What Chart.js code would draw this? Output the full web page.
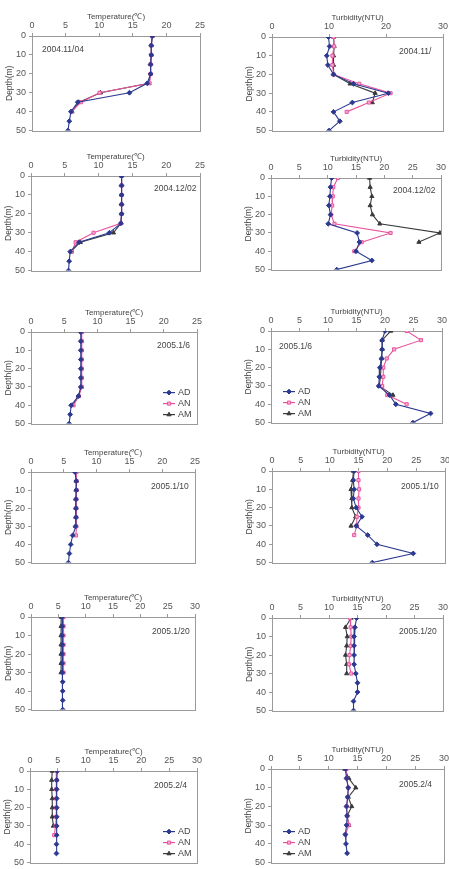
<!DOCTYPE html>
<html>
<head>
<meta charset="utf-8">
<script src="https://cdn.jsdelivr.net/npm/chart.js@4.4.0/dist/chart.umd.min.js"></script>
<style>
  html, body { margin: 0; padding: 0; background: #fff; overflow: hidden; }
  #page { position: relative; width: 449px; height: 869px; }
  .panel { position: absolute; }
</style>
</head>
<body>
<div id="page"></div>
<script>
// depths (m) shared by every profile
const depths = [0, 5, 10, 15, 20, 25, 30, 35, 40, 45, 50];
const seriesNames = ['AD', 'AN', 'AM'];
const dates = ['2004.11/04', '2004.11/', '2004.12/02', '2004.12/02', '2005.1/6', '2005.1/6',
               '2005.1/10', '2005.1/10', '2005.1/20', '2005.1/20', '2005.2/4', '2005.2/4'];
const depthTicks = [0, 10, 20, 30, 40, 50];

// 2004.11/04
const nov04TempAD = [17.9, 17.75, 17.75, 17.65, 17.65, 17.15, 14.5, 6.8, 5.8, 5.55, 5.35];
const nov04TempAN = [17.9, 17.75, 17.75, 17.65, 17.65, 17.5, 10.05, 7.3, 5.9];
const nov04TempAM = [17.9, 17.75, 17.75, 17.65, 17.65, 17.4, 10.2, 7.0, 5.95];
const nov04TurbAD = [9.9, 10.1, 9.6, 9.8, 10.8, 14.3, 20.4, 14.1, 10.8, 11.9, 10.0];
const nov04TurbAN = [10.8, 10.9, 10.6, 10.6, 10.8, 15.3, 20.8, 17.0, 13.1];
const nov04TurbAM = [10.8, 10.9, 10.8, 10.8, 10.8, 13.7, 18.1, 17.6];

// 2004.12/02
const dec02TempAD = [13.4, 13.4, 13.4, 13.4, 13.4, 13.3, 11.6, 7.1, 5.8, 5.65, 5.55];
const dec02TempAN = [13.4, 13.4, 13.4, 13.4, 13.4, 13.3, 9.25, 6.6, 6.05];
const dec02TempAM = [13.4, 13.4, 13.4, 13.4, 13.4, 13.3, 12.2, 7.3, 5.9];
const dec02TurbAD = [10.7, 10.5, 10.4, 10.2, 10.5, 10.1, 15.2, 15.6, 15.0, 17.8, 11.6];
const dec02TurbAN = [11.8, 11.0, 10.9, 10.8, 10.6, 11.2, 21.1, 16.0, 14.7];
const dec02TurbAM = [17.4, 17.5, 17.8, 17.5, 17.9, 19.2, 29.8, 26.1];

// 2005.1/6
const jan06TempAD = [7.5, 7.5, 7.5, 7.5, 7.5, 7.5, 7.5, 7.15, 6.05, 5.9, 5.75];
const jan06TempAN = [7.65, 7.65, 7.65, 7.65, 7.65, 7.65, 7.65, 7.2, 6.4];
const jan06TempAM = [7.6, 7.6, 7.6, 7.6, 7.6, 7.6, 7.6, 7.15, 6.3];
const jan06TurbAD = [20.0, 19.5, 19.5, 19.4, 19.1, 19.0, 18.9, 20.8, 21.9, 28.0, 24.9];
const jan06TurbAN = [23.8, 26.3, 21.6, 20.3, 19.7, 19.7, 19.5, 20.4, 23.8];
const jan06TurbAM = [21.0, 19.5, 19.5, 19.4, 19.3, 19.2, 19.0, 21.4];

// 2005.1/10
const jan10TempAD = [6.7, 6.9, 6.9, 6.85, 6.85, 6.85, 6.8, 6.35, 6.05, 5.85, 5.7];
const jan10TempAN = [6.9, 6.95, 6.95, 6.9, 6.9, 6.9, 6.9, 6.85];
const jan10TempAM = [6.85, 6.9, 6.9, 6.85, 6.85, 6.85, 6.8];
const jan10TurbAD = [14.25, 14.1, 14.25, 14.1, 14.6, 15.6, 14.6, 16.6, 18.2, 24.5, 17.4];
const jan10TurbAN = [15.0, 15.0, 15.1, 15.0, 15.0, 14.7, 14.7, 14.25];
const jan10TurbAM = [14.1, 14.0, 13.7, 13.85, 13.85, 14.5, 13.7];

// 2005.1/20
const jan20TempAD = [5.7, 5.75, 5.7, 5.75, 5.7, 5.7, 5.75, 5.8, 5.8, 5.8, 5.8];
const jan20TempAN = [5.95, 5.95, 5.95, 5.95, 5.95, 5.95, 5.95];
const jan20TempAM = [5.5, 5.5, 5.5, 5.5, 5.5, 5.5, 5.5];
const jan20TurbAD = [14.85, 14.55, 14.4, 14.4, 14.4, 14.4, 14.7, 15.0, 15.0, 14.3, 14.3];
const jan20TurbAN = [13.7, 13.8, 13.9, 13.8, 13.6, 13.5, 13.9];
const jan20TurbAM = [13.85, 12.9, 13.2, 13.1, 12.9, 13.1, 13.1];

// 2005.2/4
const feb04TempAD = [4.9, 4.8, 4.8, 4.8, 4.8, 4.8, 4.8, 4.8, 4.75, 4.75];
const feb04TempAN = [4.8, 4.8, 4.7, 4.7, 4.7, 4.7, 4.6, 4.35];
const feb04TempAM = [4.0, 3.9, 3.9, 4.0, 4.0, 4.0, 4.2];
const feb04TurbAD = [12.9, 13.1, 13.4, 13.3, 13.1, 13.2, 13.1, 12.9, 13.0, 13.2];
const feb04TurbAN = [13.1, 13.1, 13.4, 13.3, 13.1, 13.2, 13.5, 12.9];
const feb04TurbAM = [12.8, 13.5, 14.7, 13.4, 14.0, 13.2, 13.5];

const tempTitle = 'Temperature(\u2103)';
const turbTitle = 'Turbidity(NTU)';

// layout of each panel: plot box in page px, axis range, label offsets
const panels = [
  { l: 32, t: 36, r: 200, b: 133, title: tempTitle, max: 25, step: 5, series: [nov04TempAD, nov04TempAN, nov04TempAM], dateAt: [10, 14] },
  { l: 272, t: 37, r: 443, b: 133, title: turbTitle, max: 30, step: 10, series: [nov04TurbAD, nov04TurbAN, nov04TurbAM], dateAt: [127, 15] },
  { l: 31, t: 176, r: 200, b: 273, title: tempTitle, max: 25, step: 5, series: [dec02TempAD, dec02TempAN, dec02TempAM], dateAt: [123, 13] },
  { l: 271, t: 178, r: 441, b: 272, title: turbTitle, max: 30, step: 5, series: [dec02TurbAD, dec02TurbAN, dec02TurbAM], dateAt: [122, 13] },
  { l: 31, t: 332, r: 197, b: 426, title: tempTitle, max: 25, step: 5, series: [jan06TempAD, jan06TempAN, jan06TempAM], dateAt: [126, 14], legend: 'right' },
  { l: 271, t: 331, r: 442, b: 425, title: turbTitle, max: 30, step: 5, series: [jan06TurbAD, jan06TurbAN, jan06TurbAM], dateAt: [8, 16], legend: 'left' },
  { l: 31, t: 472, r: 195, b: 565, title: tempTitle, max: 25, step: 5, series: [jan10TempAD, jan10TempAN, jan10TempAM], dateAt: [120, 15] },
  { l: 272, t: 471, r: 445, b: 565, title: turbTitle, max: 30, step: 5, series: [jan10TurbAD, jan10TurbAN, jan10TurbAM], dateAt: [129, 16] },
  { l: 31, t: 617, r: 195, b: 712, title: tempTitle, max: 30, step: 5, series: [jan20TempAD, jan20TempAN, jan20TempAM], dateAt: [121, 15] },
  { l: 272, t: 618, r: 443, b: 713, title: turbTitle, max: 30, step: 5, series: [jan20TurbAD, jan20TurbAN, jan20TurbAM], dateAt: [127, 14] },
  { l: 30, t: 771, r: 197, b: 865, title: tempTitle, max: 30, step: 5, series: [feb04TempAD, feb04TempAN, feb04TempAM], dateAt: [124, 15], legend: 'right' },
  { l: 271, t: 769, r: 444, b: 865, title: turbTitle, max: 30, step: 5, series: [feb04TurbAD, feb04TurbAN, feb04TurbAM], dateAt: [128, 16], legend: 'left' }
];

const styles = [
  { color: '#2b3990', fill: '#2b3990', point: 'rectRot', radius: 2.4 },
  { color: '#e8559e', fill: '#f5b0d2', point: 'rect', radius: 2.2 },
  { color: '#3a3a3a', fill: '#3a3a3a', point: 'triangle', radius: 2.4 }
];

const YW = 30, XH = 30, PR = 8, PB = 6;
const FONT = '"Liberation Sans", Arial, sans-serif';
Chart.defaults.font.family = FONT;
Chart.defaults.font.size = 9;
Chart.defaults.color = '#555';

const frame = {
  id: 'frame',
  beforeDatasetsDraw(chart) {
    const { ctx, chartArea: a } = chart;
    ctx.save();
    ctx.strokeStyle = '#9a9a9a';
    ctx.lineWidth = 1;
    ctx.strokeRect(Math.round(a.left) + 0.5, Math.round(a.top) + 0.5,
                   Math.round(a.right - a.left), Math.round(a.bottom - a.top));
    ctx.restore();
  }
};

const notes = {
  id: 'notes',
  afterDraw(chart, args, opts) {
    const { ctx, chartArea: a } = chart;
    ctx.save();
    ctx.font = '8.5px ' + FONT;
    ctx.fillStyle = '#444';
    ctx.textBaseline = 'middle';
    ctx.textAlign = 'left';
    ctx.fillText(opts.date, a.left + opts.dateAt[0], a.top + opts.dateAt[1]);
    if (opts.legend) {
      ctx.font = '9px ' + FONT;
      const x0 = opts.legend === 'right' ? a.right - 34 : a.left + 12;
      chart.data.datasets.forEach((ds, i) => {
        const y = a.bottom - 31 + i * 11;
        ctx.strokeStyle = ds.borderColor;
        ctx.lineWidth = 1.2;
        ctx.beginPath();
        ctx.moveTo(x0, y);
        ctx.lineTo(x0 + 12, y);
        ctx.stroke();
        ctx.fillStyle = ds.pointBackgroundColor;
        ctx.strokeStyle = ds.pointBorderColor;
        ctx.lineWidth = 1;
        Chart.helpers.drawPoint(ctx, { pointStyle: ds.pointStyle, radius: ds.pointRadius, borderWidth: 1, rotation: 0 }, x0 + 6, y);
        ctx.fillStyle = '#444';
        ctx.fillText(ds.label, x0 + 15, y);
      });
    }
    ctx.restore();
  }
};

const page = document.getElementById('page');

panels.forEach((p, n) => {
  const w = p.r - p.l + YW + PR;
  const h = p.b - p.t + XH + PB;
  const box = document.createElement('div');
  box.className = 'panel';
  box.style.left = (p.l - YW) + 'px';
  box.style.top = (p.t - XH) + 'px';
  const cv = document.createElement('canvas');
  cv.width = w;
  cv.height = h;
  cv.style.width = w + 'px';
  cv.style.height = h + 'px';
  box.appendChild(cv);
  page.appendChild(box);

  const datasets = p.series.map((vals, i) => ({
    label: seriesNames[i],
    data: vals.map((v, k) => ({ x: v, y: depths[k] })),
    borderColor: styles[i].color,
    borderWidth: 1.1,
    pointStyle: styles[i].point,
    pointRadius: styles[i].radius,
    pointBackgroundColor: styles[i].fill,
    pointBorderColor: styles[i].color,
    pointBorderWidth: 1,
    fill: false,
    tension: 0
  }));

  new Chart(cv, {
    type: 'line',
    data: { datasets },
    plugins: [frame, notes],
    options: {
      responsive: false,
      animation: false,
      layout: { padding: { left: 0, top: 0, right: PR, bottom: PB } },
      plugins: {
        legend: { display: false },
        tooltip: { enabled: false },
        notes: { date: dates[n], dateAt: p.dateAt, legend: p.legend }
      },
      scales: {
        x: {
          type: 'linear',
          position: 'top',
          min: 0,
          max: p.max,
          ticks: { stepSize: p.step, padding: 2, color: '#555' },
          grid: { drawOnChartArea: false, tickLength: 3, color: '#9a9a9a' },
          border: { color: '#9a9a9a' },
          title: { display: true, text: p.title, color: '#444', font: { size: 8 }, padding: { top: 6, bottom: 0 } },
          afterFit: s => { s.height = XH; }
        },
        y: {
          type: 'linear',
          reverse: true,
          min: 0,
          max: 50,
          afterBuildTicks: s => { s.ticks = depthTicks.map(v => ({ value: v })); },
          ticks: { padding: 3, color: '#555' },
          grid: { drawOnChartArea: false, tickLength: 3, color: '#9a9a9a' },
          border: { color: '#9a9a9a' },
          title: { display: true, text: 'Depth(m)', color: '#444', font: { size: 8.5 }, padding: { top: 3, bottom: 0 } },
          afterFit: s => { s.width = YW; }
        }
      }
    }
  });
});
</script>
</body>
</html>
